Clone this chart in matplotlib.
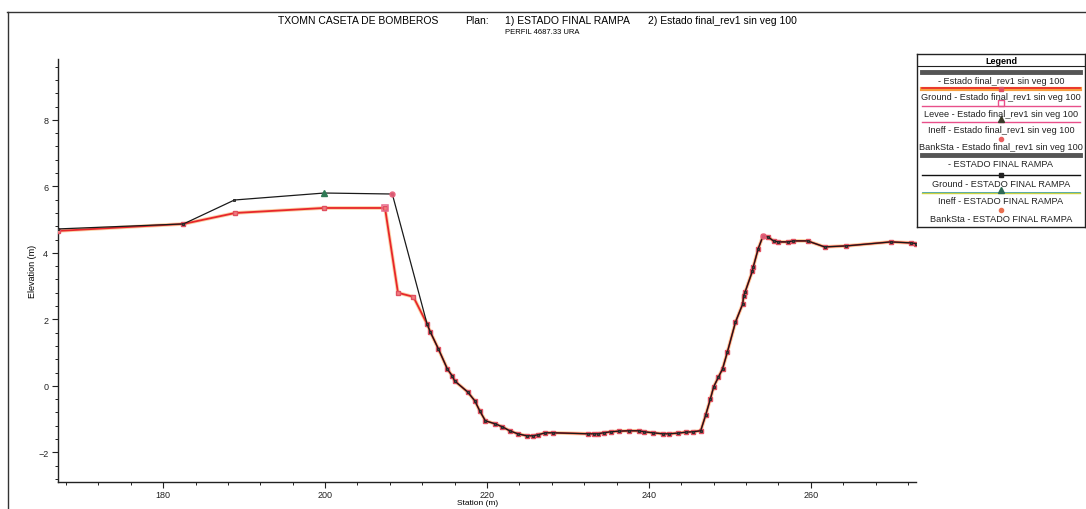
import matplotlib.pyplot as plt
from matplotlib.lines import Line2D
from matplotlib.ticker import MultipleLocator

plt.rcParams['font.family'] = ['Liberation Sans', 'DejaVu Sans']

# left bank, ESTADO FINAL RAMPA
sta_rampa_lb = [167.0, 182.5, 188.8, 199.9, 208.3]
elev_rampa_lb = [4.72, 4.87, 5.59, 5.80, 5.77]

# left bank, Estado final_rev1 sin veg 100
sta_rev1_lb = [167.0, 182.5, 188.9, 199.9, 207.4, 209.0, 210.9]
elev_rev1_lb = [4.66, 4.87, 5.20, 5.35, 5.35, 2.80, 2.68]

# channel + right bank (shared by both plans)
sta_ch = [212.6, 213.0, 214.0, 215.1, 215.7, 216.0, 217.6, 218.5, 219.1, 219.8,
          221.0, 221.9, 222.8, 223.8, 224.9, 225.7, 226.3, 227.2, 228.1, 232.5,
          233.2, 233.7, 234.4, 235.3, 236.3, 237.5, 238.8, 239.4, 240.5, 241.7,
          242.5, 243.6, 244.6, 245.4, 246.4, 247.0, 247.6, 248.0, 248.6, 249.1,
          249.7, 250.7, 251.6, 251.7, 251.9, 252.8, 252.9, 253.5, 254.1, 254.7,
          255.4, 256.0, 257.2, 257.8, 259.6, 261.7, 264.4, 269.9, 272.4, 273.0]
elev_ch = [1.86, 1.62, 1.11, 0.51, 0.30, 0.15, -0.18, -0.45, -0.75, -1.05,
           -1.14, -1.23, -1.35, -1.44, -1.50, -1.50, -1.47, -1.41, -1.41, -1.44,
           -1.44, -1.44, -1.41, -1.38, -1.36, -1.35, -1.35, -1.38, -1.41, -1.44,
           -1.44, -1.42, -1.39, -1.38, -1.35, -0.89, -0.39, -0.03, 0.27, 0.51,
           1.02, 1.92, 2.47, 2.71, 2.83, 3.46, 3.58, 4.12, 4.51, 4.48,
           4.36, 4.33, 4.33, 4.36, 4.36, 4.18, 4.21, 4.33, 4.30, 4.28]

# special points
ineff_rampa = (199.9, 5.80)
levee_rev1 = (207.4, 5.35)
bank_sta = [208.3, 254.1]
bank_elev = [5.77, 4.51]

sta_rampa = sta_rampa_lb + sta_ch
elev_rampa = elev_rampa_lb + elev_ch
sta_rev1 = sta_rev1_lb + sta_ch
elev_rev1 = elev_rev1_lb + elev_ch

W, H = 1086, 510
fig = plt.figure(figsize=(W / 100, H / 100), dpi=100)
ax = fig.add_axes([58 / W, (H - 483) / H, (916 - 58) / W, (483 - 60) / H])

# rev1 ground: orange underlay + red line
ax.plot(sta_rev1, elev_rev1, color='#f7b26b', lw=2.6, alpha=0.6, zorder=2)
ax.plot(sta_rev1, elev_rev1, color='#e8262a', lw=1.3, marker='s', ms=2.6,
        mfc='#f08080', mec='#e05060', zorder=3)
# rampa ground: black line with small squares
ax.plot(sta_rampa, elev_rampa, color='#1a1a1a', lw=0.9, marker='s', ms=2.1,
        mfc='#444444', mec='#222222', mew=0.6, zorder=4)
ax.plot(*ineff_rampa, marker='^', ms=4.5, color='#2f7a55', zorder=5)
ax.plot(*levee_rev1, marker='s', ms=4.5, mfc='none', mec='#e86a8a', mew=1.1, zorder=5)
ax.plot(bank_sta, bank_elev, 'o', ms=3.6, color='#e8607a', alpha=0.9, zorder=6)

ax.set_xlim(167.0, 273.0)
ax.set_ylim(-2.89, 9.83)
ax.xaxis.set_minor_locator(MultipleLocator(4))
ax.yaxis.set_minor_locator(MultipleLocator(0.4))
ax.set_xticks([180, 200, 220, 240, 260])
ax.set_yticks([-2, 0, 2, 4, 6, 8])
for s in ['top', 'right']:
    ax.spines[s].set_visible(False)
for s in ['left', 'bottom']:
    ax.spines[s].set_linewidth(1.0)
    ax.spines[s].set_color('#222222')
ax.tick_params(which='major', length=4, width=0.8, labelsize=6.5, colors='#222222', pad=3)
ax.tick_params(which='minor', length=2.5, width=0.7, colors='#222222')
ax.tick_params(axis='x', pad=2)
ax.set_ylabel('Elevation (m)', fontsize=6.5, labelpad=1)
fig.text(478 / W, 1 - 503.5 / H, 'Station (m)', fontsize=6, ha='center', va='center')

# page border
fig.add_artist(Line2D([7 / W, 1], [1 - 13 / H, 1 - 13 / H], color='#333333', lw=1.0))
fig.add_artist(Line2D([8 / W, 8 / W], [1 - 13 / H, 0], color='#333333', lw=1.0))

# title
fs = 7.5
fig.text(278 / W, 1 - 21 / H, 'TXOMN CASETA DE BOMBEROS', fontsize=fs, va='center')
fig.text(465 / W, 1 - 21 / H, 'Plan:', fontsize=fs, va='center')
fig.text(505 / W, 1 - 21 / H, '1) ESTADO FINAL RAMPA', fontsize=fs, va='center')
fig.text(648 / W, 1 - 21 / H, '2) Estado final_rev1 sin veg 100', fontsize=fs, va='center')
fig.text(505 / W, 1 - 33 / H, 'PERFIL 4687.33 URA', fontsize=5.5, va='center')

# legend box
lx0, lx1, ly0, ly1 = 917, 1085, 55, 228
lax = fig.add_axes([lx0 / W, (H - ly1) / H, (lx1 - lx0) / W, (ly1 - ly0) / H])
lax.set_xlim(lx0, lx1)
lax.set_ylim(ly1, ly0)
lax.set_xticks([])
lax.set_yticks([])
for s in lax.spines.values():
    s.set_linewidth(1.0)
    s.set_color('#222222')
xc = (lx0 + lx1) / 2
lax.text(xc, 61.5, 'Legend', fontsize=6.5, fontweight='bold', ha='center', va='center')
lax.plot([lx0, lx1], [67, 67], color='#222222', lw=0.8)

leg_labels = ['- Estado final_rev1 sin veg 100',
              'Ground - Estado final_rev1 sin veg 100',
              'Levee - Estado final_rev1 sin veg 100',
              'Ineff - Estado final_rev1 sin veg 100',
              'BankSta - Estado final_rev1 sin veg 100',
              '- ESTADO FINAL RAMPA',
              'Ground - ESTADO FINAL RAMPA',
              'Ineff - ESTADO FINAL RAMPA',
              'BankSta - ESTADO FINAL RAMPA']
sample_y = [73, 90, 106, 122, 140, 156, 176, 193, 211]
text_y = [81.5, 98, 114.5, 131, 148, 165, 185, 202, 219.5]

sx0, sx1 = 922, 1080
# samples
lax.plot([sx0, sx1], [sample_y[0]] * 2, color='#555555', lw=3.5)
lax.plot([sx0, sx1], [sample_y[1]] * 2, color='#f7a040', lw=3)
lax.plot([sx0, sx1], [sample_y[1] - 1] * 2, color='#e8262a', lw=1.2)
lax.plot([xc], [sample_y[1]], 's', ms=3, color='#e05060')
lax.plot([sx0, sx1], [sample_y[2] + 1] * 2, color='#e8508a', lw=1.0)
lax.plot([xc], [sample_y[2] - 2], 's', ms=4, mfc='none', mec='#e8508a', mew=1)
lax.plot([sx0, sx1], [sample_y[3] + 1] * 2, color='#e8508a', lw=1.0)
lax.plot([xc], [sample_y[3] - 2], '^', ms=4, color='#3a3a2a')
lax.plot([xc], [sample_y[4]], 'o', ms=3, color='#e86060')
lax.plot([sx0, sx1], [sample_y[5]] * 2, color='#555555', lw=3.5)
lax.plot([sx0, sx1], [sample_y[6]] * 2, color='#111111', lw=1.0)
lax.plot([xc], [sample_y[6]], 's', ms=3, color='#222222')
lax.plot([sx0, sx1], [sample_y[7] + 1] * 2, color='#c8d040', lw=1.0)
lax.plot([sx0, sx1], [sample_y[7]] * 2, color='#40a0a0', lw=0.6)
lax.plot([xc], [sample_y[7] - 2], '^', ms=4, color='#2f6a55')
lax.plot([xc], [sample_y[8]], 'o', ms=3, color='#e87050')
for lab, ty in zip(leg_labels, text_y):
    t = lax.text(xc, ty, lab, fontsize=6.6, ha='center', va='center', color='#222222')
    t.set_clip_on(True)

fig.savefig('out.png', dpi=100)
